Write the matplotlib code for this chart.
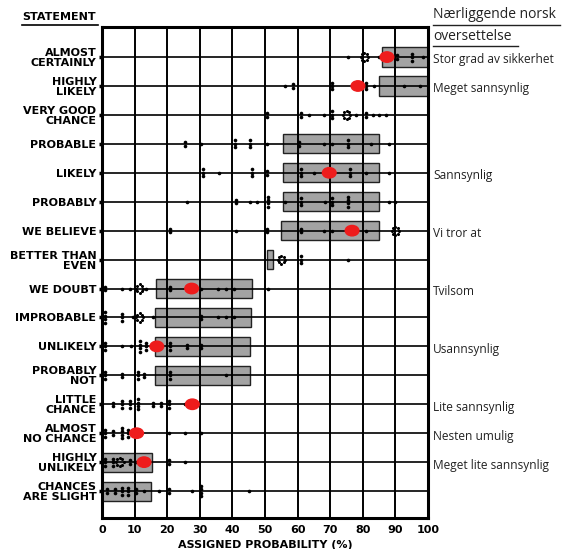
import matplotlib.pyplot as plt
import numpy as np
from matplotlib.patches import Rectangle, Ellipse
from matplotlib.lines import Line2D

# Statements, top to bottom
statements = ['ALMOST\nCERTAINLY', 'HIGHLY\nLIKELY', 'VERY GOOD\nCHANCE', 'PROBABLE',
              'LIKELY', 'PROBABLY', 'WE BELIEVE', 'BETTER THAN\nEVEN', 'WE DOUBT',
              'IMPROBABLE', 'UNLIKELY', 'PROBABLY\nNOT', 'LITTLE\nCHANCE',
              'ALMOST\nNO CHANCE', 'HIGHLY\nUNLIKELY', 'CHANCES\nARE SLIGHT']

# Shaded ranges (low, high) per statement, None = no box
ranges = [(86, 100), (85, 100), None, (55.5, 85), (55.5, 85), (55.5, 85), (55, 85),
          (50.5, 52.5), (16.5, 46), (16.3, 45.6), (16.3, 45.4), (16.3, 45.4), None,
          None, (0, 15.3), (0, 15)]

# Individual responses: (value, number of stacked dots)
responses = [
    [(75.5, 1), (85, 1), (90.5, 2), (95, 3), (98.5, 1)],
    [(56, 1), (58.5, 2), (70.5, 3), (81, 3), (83.5, 1), (92.5, 1), (97.5, 1)],
    [(50.5, 2), (61, 2), (63.5, 1), (68, 1), (70.5, 3), (78, 1), (81, 2), (83, 1), (85, 1), (87, 1)],
    [(25.5, 2), (30.5, 1), (40.8, 3), (45.4, 3), (50.6, 1), (60.5, 2), (68, 1), (70.5, 1),
     (75.5, 3), (82.5, 1), (88, 1)],
    [(31, 3), (36, 1), (46, 3), (50.5, 2), (61, 3), (65, 1), (76, 3), (81, 1), (88, 1)],
    [(26, 1), (41, 2), (45.5, 1), (47.5, 1), (51, 4), (56, 1), (61, 3), (68.5, 1),
     (70.5, 3), (75.5, 4), (88, 1), (90, 1)],
    [(21, 2), (41, 1), (50.5, 2), (61, 2), (68, 1), (70.5, 1), (81, 1)],
    [(61, 3), (75.5, 1)],
    [(1, 2), (6, 1), (8.5, 1), (13.5, 1), (21, 2), (30.5, 1), (35.5, 1), (38, 1), (40.5, 1), (51, 1)],
    [(1, 4), (6, 3), (9.5, 1), (15.5, 1), (30.5, 2), (35.5, 1), (38, 1), (40.5, 1)],
    [(1, 3), (6, 1), (9, 1), (11.5, 4), (13.5, 3), (21, 3), (26, 2), (30.5, 2)],
    [(1, 3), (6, 2), (11, 3), (13, 2), (21, 3), (38, 1)],
    [(3.5, 2), (6, 3), (8.5, 3), (11, 4), (15.5, 2), (18, 2), (20.5, 3), (25.5, 1)],
    [(1, 3), (3.5, 2), (6, 4), (8, 3), (20.5, 1), (25.5, 1), (30.5, 1)],
    [(1, 3), (3.5, 3), (8.5, 2), (10.5, 1), (20.5, 2), (25.5, 1)],
    [(1.5, 2), (4, 2), (6, 3), (8, 3), (10.5, 2), (13, 1), (17.5, 1), (20.5, 2), (27.5, 1),
     (30.5, 4), (45, 1)],
]

# Ring-shaped clusters of many responses: (row, value)
clusters = [(0, 80.5), (2, 75), (6, 90), (7, 55), (8, 11.5), (9, 11.5), (14, 5.5)]

# Red markers (row, value)
red_marks = [(0, 87.4), (1, 78.5), (4, 69.7), (6, 76.7), (8, 27.5), (10, 16.8),
             (12, 27.7), (13, 10.6), (14, 12.9)]

# Norwegian translations (row, text)
norsk = [(0, 'Stor grad av sikkerhet'), (1, 'Meget sannsynlig'), (4, 'Sannsynlig'),
         (6, 'Vi tror at'), (8, 'Tvilsom'), (10, 'Usannsynlig'), (12, 'Lite sannsynlig'),
         (13, 'Nesten umulig'), (14, 'Meget lite sannsynlig')]

W, H = 564, 549
fig = plt.figure(figsize=(W / 100, H / 100), dpi=100)
ax = fig.add_axes([0.1809, 0.0565, 0.578, 0.8944])
n = len(statements)
ax.set_xlim(0, 100)
ax.set_ylim(n - 0.07, -1.04)

# grid
for x in range(10, 100, 10):
    ax.axvline(x, color='black', lw=1.4, zorder=2)
for i in range(n):
    ax.axhline(i, color='black', lw=1.2, zorder=2)

# boxes
for i, r in enumerate(ranges):
    if r is None:
        continue
    lo, hi = r
    ax.add_patch(Rectangle((lo, i - 0.33), hi - lo, 0.66, facecolor='#a3a3a3',
                           edgecolor='#222222', lw=1.0, zorder=1))

# dots
for i, row in enumerate(responses):
    for val, cnt in row:
        offs = (np.arange(cnt) - (cnt - 1) / 2) * 0.12
        ax.plot([val] * cnt, i + offs, 'o', color='black', ms=2.6, mec='none', zorder=3)

ang = np.linspace(0, 2 * np.pi, 8, endpoint=False)
for i, val in clusters:
    ax.plot(val + 1.1 * np.cos(ang), i + 0.14 * np.sin(ang), 'o', color='black',
            ms=2.2, mec='none', zorder=3)

for i, val in red_marks:
    ax.add_patch(Ellipse((val, i), 4.2, 0.36, color='#ee1c1c', zorder=4))

for s in ax.spines.values():
    s.set_linewidth(2.2)

ax.set_xticks(range(0, 101, 10))
ax.set_xticklabels([str(v) for v in range(0, 101, 10)], fontsize=8, fontweight='bold')
ax.tick_params(axis='x', length=0, pad=5)
ax.set_yticks(range(n))
ax.set_yticklabels(statements, fontsize=8, fontweight='bold', linespacing=1.0)
ax.tick_params(axis='y', length=2, width=2.5, pad=2)
ax.set_xlabel('ASSIGNED PROBABILITY (%)', fontsize=8, fontweight='bold', labelpad=4)

# header
fig.text(22 / W, 1 - 22 / H, 'STATEMENT', fontsize=8, fontweight='bold', va='bottom')
fig.add_artist(Line2D([22 / W, 98 / W], [1 - 25 / H, 1 - 25 / H], color='black', lw=1.2))

fig.text(433 / W, 1 - 15 / H, 'Nærliggende norsk', fontsize=10, family='Open Sans',
         color='#222222', va='center')
fig.add_artist(Line2D([433 / W, 560 / W], [1 - 25 / H, 1 - 25 / H], color='#222222', lw=1.0))
fig.text(433 / W, 1 - 36 / H, 'oversettelse', fontsize=10, family='Open Sans',
         color='#222222', va='center')
fig.add_artist(Line2D([433 / W, 518 / W], [1 - 46 / H, 1 - 46 / H], color='#222222', lw=1.0))

for i, txt in norsk:
    ax.text(101.5, i + 0.1, txt, fontsize=8.6, family='Open Sans', color='#222222',
            va='center', ha='left', clip_on=False)

fig.savefig('out.png', dpi=100)
